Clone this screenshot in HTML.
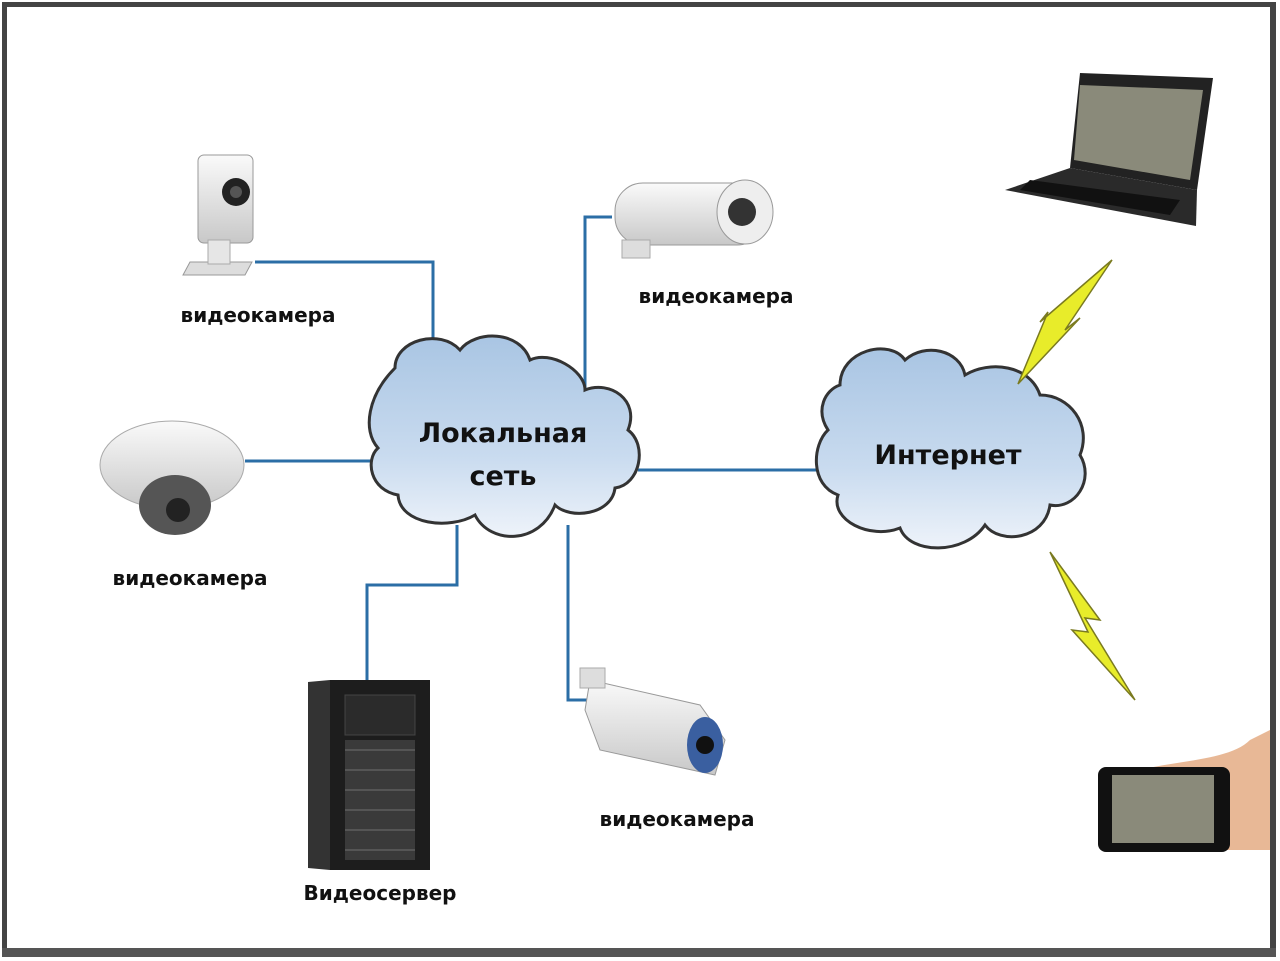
<!DOCTYPE html>
<html><head><meta charset="utf-8"><style>
body{margin:0;background:#fff;}
svg{display:block}
text{font-family:"DejaVu Sans","Liberation Sans",sans-serif;font-weight:bold;}
</style></head><body>
<svg width="1280" height="961" viewBox="0 0 1280 961" xmlns="http://www.w3.org/2000/svg">
<defs>
<linearGradient id="cl" x1="0" y1="0" x2="0" y2="1"><stop offset="0" stop-color="#a9c5e3"/><stop offset="0.6" stop-color="#c9dbef"/><stop offset="1" stop-color="#eef3fa"/></linearGradient>
<linearGradient id="cam" x1="0" y1="0" x2="0" y2="1"><stop offset="0" stop-color="#fafafa"/><stop offset="1" stop-color="#c8c8c8"/></linearGradient>
</defs>
<rect x="0" y="0" width="1280" height="961" fill="#fff"/>
<!-- frame -->
<rect x="2" y="2" width="1274" height="5" fill="#444"/>
<rect x="2" y="2" width="5" height="955" fill="#444"/>
<rect x="1270" y="2" width="6" height="955" fill="#444"/>
<rect x="2" y="948" width="1274" height="9" fill="#555"/>
<!-- connectors -->
<g stroke="#2b6ea6" stroke-width="3" fill="none">
<polyline points="255,262 433,262 433,340"/>
<polyline points="585,390 585,217 612,217"/>
<polyline points="245,461 378,461"/>
<polyline points="638,470 822,470"/>
<polyline points="457,525 457,585 367,585 367,682"/>
<polyline points="568,525 568,700 592,700"/>
</g>
<!-- local cloud -->
<path d="M395,368 C395,340 440,328 460,350 C475,330 520,330 530,360 C550,350 585,370 585,390 C610,380 640,400 628,430 C648,445 640,485 615,488 C612,515 570,520 555,505 C540,545 490,545 475,515 C450,530 400,525 398,495 C370,490 365,460 378,448 C362,430 368,395 395,368Z" fill="url(#cl)" stroke="#333" stroke-width="3"/>
<text x="503" y="442" font-size="27" text-anchor="middle" fill="#111">Локальная</text>
<text x="503" y="485" font-size="27" text-anchor="middle" fill="#111">сеть</text>
<!-- internet cloud -->
<path d="M840,385 C840,350 890,338 905,360 C925,342 960,350 965,375 C990,360 1030,365 1040,395 C1070,395 1092,425 1080,455 C1095,480 1075,510 1050,505 C1045,540 1000,545 985,525 C965,555 910,555 900,528 C870,540 830,520 838,495 C810,485 812,445 828,430 C815,410 825,390 840,385Z" fill="url(#cl)" stroke="#333" stroke-width="3"/>
<text x="948" y="464" font-size="27" text-anchor="middle" fill="#111">Интернет</text>
<!-- lightning -->
<polygon points="1112,260 1065,330 1080,318 1018,384 1048,312 1040,322" fill="#e8ec2a" stroke="#7a7a20" stroke-width="1.5"/>
<polygon points="1050,552 1100,620 1085,618 1135,700 1072,630 1088,632" fill="#e8ec2a" stroke="#7a7a20" stroke-width="1.5"/>
<!-- camera 1 (cube) -->
<rect x="198" y="155" width="55" height="88" rx="6" fill="url(#cam)" stroke="#999"/>
<circle cx="236" cy="192" r="14" fill="#222"/>
<circle cx="236" cy="192" r="6" fill="#555"/>
<path d="M190,262 L252,262 L245,275 L183,275Z" fill="#ddd" stroke="#999"/>
<rect x="208" y="240" width="22" height="24" fill="#e6e6e6" stroke="#aaa"/>
<text x="258" y="322" font-size="20" text-anchor="middle" fill="#111">видеокамера</text>
<!-- camera 2 bullet top -->
<rect x="615" y="183" width="150" height="62" rx="28" fill="url(#cam)" stroke="#999"/>
<ellipse cx="745" cy="212" rx="28" ry="32" fill="#eee" stroke="#999"/>
<circle cx="742" cy="212" r="14" fill="#333"/>
<rect x="622" y="240" width="28" height="18" fill="#ddd" stroke="#aaa"/>
<text x="716" y="303" font-size="20" text-anchor="middle" fill="#111">видеокамера</text>
<!-- dome -->
<ellipse cx="172" cy="465" rx="72" ry="44" fill="url(#cam)" stroke="#aaa"/>
<ellipse cx="175" cy="505" rx="36" ry="30" fill="#555"/>
<circle cx="178" cy="510" r="12" fill="#222"/>
<text x="190" y="585" font-size="20" text-anchor="middle" fill="#111">видеокамера</text>
<!-- server -->
<polygon points="308,682 330,680 330,870 308,868" fill="#333"/>
<rect x="330" y="680" width="100" height="190" fill="#1d1d1d"/>
<rect x="345" y="740" width="70" height="120" fill="#3a3a3a"/>
<g stroke="#555" stroke-width="2">
<line x1="345" y1="750" x2="415" y2="750"/><line x1="345" y1="770" x2="415" y2="770"/><line x1="345" y1="790" x2="415" y2="790"/><line x1="345" y1="810" x2="415" y2="810"/><line x1="345" y1="830" x2="415" y2="830"/><line x1="345" y1="850" x2="415" y2="850"/>
</g>
<rect x="345" y="695" width="70" height="40" fill="#2b2b2b" stroke="#444"/>
<text x="380" y="900" font-size="20" text-anchor="middle" fill="#111">Видеосервер</text>
<!-- camera bullet bottom -->
<polygon points="590,680 700,705 725,740 715,775 600,750 585,710" fill="url(#cam)" stroke="#999"/>
<ellipse cx="705" cy="745" rx="18" ry="28" fill="#3a5fa0"/>
<circle cx="705" cy="745" r="9" fill="#111"/>
<rect x="580" y="668" width="25" height="20" fill="#ddd" stroke="#aaa"/>
<text x="677" y="826" font-size="20" text-anchor="middle" fill="#111">видеокамера</text>
<!-- laptop -->
<polygon points="1080,73 1213,78 1197,190 1070,168" fill="#222"/>
<polygon points="1080,85 1203,90 1190,180 1074,160" fill="#8a8a7a"/>
<polygon points="1070,168 1197,190 1196,226 1005,190" fill="#2a2a2a"/>
<polygon points="1030,180 1180,200 1170,215 1020,190" fill="#111"/>
<!-- tablet + hand -->
<path d="M1140,770 C1180,760 1230,760 1250,740 L1270,730 L1270,850 L1200,850 C1180,850 1160,848 1145,830Z" fill="#e8b896"/>
<rect x="1098" y="767" width="132" height="85" rx="8" fill="#111"/>
<rect x="1112" y="775" width="102" height="68" fill="#8a8a7a"/>
</svg>
</body></html>
